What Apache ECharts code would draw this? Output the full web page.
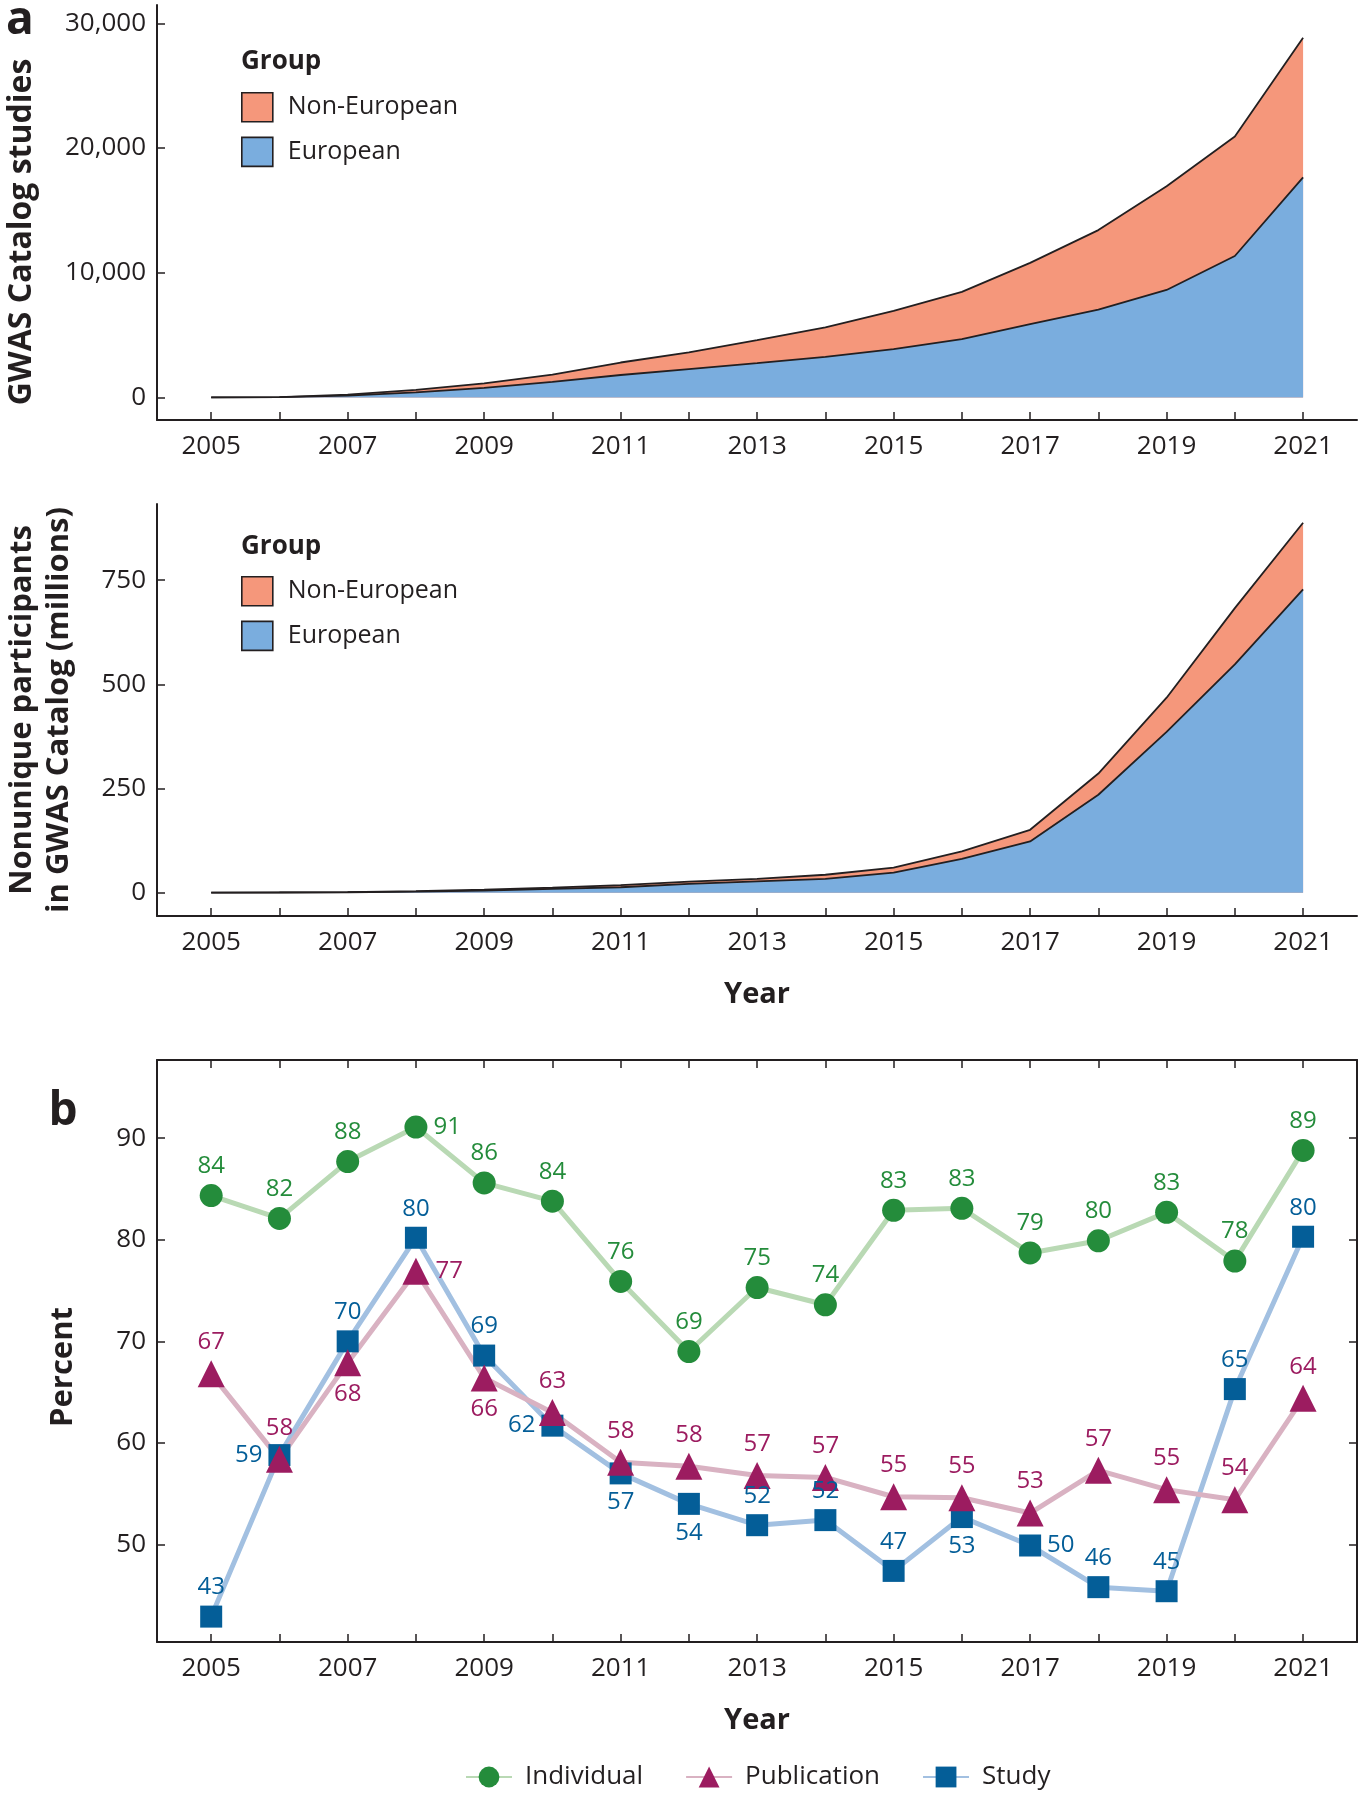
<!DOCTYPE html>
<html><head><meta charset="utf-8">
<script src="https://cdn.jsdelivr.net/npm/echarts@6/dist/echarts.min.js"></script>
<style>html,body{margin:0;padding:0;background:#fff}#c{width:1365px;height:1800px}</style>
</head><body><div id="c"></div>
<script>
// ---------- data ----------
const years = [2005,2006,2007,2008,2009,2010,2011,2012,2013,2014,2015,2016,2017,2018,2019,2020,2021];
const yearTicks = [2005,2006,2007,2008,2009,2010,2011,2012,2013,2014,2015,2016,2017,2018,2019,2020,2021];
const yearLabels = [2005,2007,2009,2011,2013,2015,2017,2019,2021];

// GWAS Catalog studies
const studiesEuropean    = [6,20,150,400,760,1250,1800,2270,2750,3250,3880,4680,5880,7050,8620,11340,17650];
const studiesNonEuropean = [4,10,70,200,370,580,1000,1350,1850,2370,3070,3780,4910,6370,8320,9590,11200];
const studiesTicks = [0,10000,20000,30000];

// Nonunique participants (millions)
const partEuropean    = [0.1,0.4,1,2.5,5,9,13,21,27,33,48,81,123,235,386,548,728];
const partNonEuropean = [0.1,0.2,0.5,1,2,3,5,5.5,6,10,12,18,28,51,82,135,160];
const partTicks = [0,250,500,750];

// Percent
const individual  = [84.35,82.1,87.7,91.1,85.6,83.8,75.9,69.0,75.3,73.6,82.9,83.1,78.7,79.9,82.7,77.9,88.8];
const publication = [66.8,58.4,67.9,76.9,66.4,63.0,58.1,57.7,56.8,56.6,54.7,54.6,53.1,57.3,55.4,54.4,64.4];
const study       = [42.9,58.8,70.0,80.2,68.6,61.7,57.0,54.0,51.9,52.4,47.4,52.7,49.9,45.8,45.4,65.3,80.3];
const percentTicks = [50,60,70,80,90];

// label placement (presentation only)
const individualLabelPos  = ['top','top','top','right','top','top','top','top','top','top','top','top','top','top','top','top','top'];
const publicationLabelPos = ['top','top','bottom','right','bottom','top','top','top','top','top','top','top','top','top','top','top','top'];
const studyLabelPos       = ['top','left','top','top','top','left','bottom','bottom','top','top','top','bottom','right','top','top','top','top'];

// stacked tops (European + Non-European), used for the upper band
const studiesStackTop = studiesEuropean.map((v, i) => v + studiesNonEuropean[i]);
const partStackTop    = partEuropean.map((v, i) => v + partNonEuropean[i]);

// ---------- styling ----------
const FONT = '"Open Sans", "Noto Sans", sans-serif';
const INK = '#231F20';
const SALMON = '#F5977B', BLUE = '#7AADDE';

function xAxisFor(gi, opts) {
  return Object.assign({
    type: 'value', gridIndex: gi, min: 2004.206, max: 2021.79,
    axisLine: {show: true, onZero: false, lineStyle: {color: INK, width: 2}},
    axisTick: {show: true, inside: true, length: 8, lineStyle: {color: INK, width: 1.5}, customValues: yearTicks},
    axisLabel: {show: true, margin: 14, fontFamily: FONT, fontSize: 26, color: INK, customValues: yearLabels,
      formatter: v => String(v)},
    splitLine: {show: false}
  }, opts || {});
}
function yAxisFor(gi, min, max, ticks, opts) {
  return Object.assign({
    type: 'value', gridIndex: gi, min: min, max: max,
    axisLine: {show: true, onZero: false, lineStyle: {color: INK, width: 2}},
    axisTick: {show: true, inside: true, length: 8, lineStyle: {color: INK, width: 1.5}, customValues: ticks},
    axisLabel: {show: true, margin: 11, fontFamily: FONT, fontSize: 26, color: INK, customValues: ticks,
      formatter: v => Number(v).toLocaleString('en-US')},
    splitLine: {show: false}
  }, opts || {});
}
function pairs(vals) { return years.map((y, i) => [y, vals[i]]); }
function labeled(vals, pos) { return years.map((y, i) => ({value: [y, vals[i]], label: {position: pos[i]}})); }

function areaSeries(name, vals, color, gi) {
  return {
    type: 'line', name: name, xAxisIndex: gi, yAxisIndex: gi,
    data: pairs(vals), symbol: 'none', color: color,
    itemStyle: {color: color},
    lineStyle: {color: INK, width: 1.8},
    areaStyle: {color: color, opacity: 1},
    emphasis: {disabled: true}, animation: false
  };
}
function pctSeries(name, vals, pos, mark, lineColor, dark, size) {
  return {
    type: 'line', name: name, xAxisIndex: 2, yAxisIndex: 2,
    data: labeled(vals, pos), symbol: mark, symbolSize: size,
    itemStyle: {color: dark},
    lineStyle: {color: lineColor, width: 5},
    label: {show: true, color: dark, fontFamily: FONT, fontSize: 24, distance: 6,
      formatter: p => Math.round(p.value[1])},
    emphasis: {disabled: true}, animation: false
  };
}

const groupLegend = (top) => ({
  data: ['Non-European', 'European'], orient: 'vertical', left: 241, top: top, padding: 0,
  icon: 'rect', itemWidth: 31, itemHeight: 29, itemGap: 14,
  itemStyle: {borderColor: INK, borderWidth: 1.6},
  textStyle: {fontFamily: FONT, fontSize: 25, color: INK, padding: [0, 0, 0, 10]},
  selectedMode: false
});

const nameStyle = {fontFamily: FONT, fontSize: 29, fontWeight: 'bold', color: INK};

const option = {
  backgroundColor: '#fff',
  animation: false,
  grid: [
    {left: 157, top: 5, width: 1200, height: 415},
    {left: 157, top: 504, width: 1200, height: 412},
    {left: 157, top: 1060, width: 1200, height: 582}
  ],
  xAxis: [
    xAxisFor(0),
    xAxisFor(1, {name: 'Year', nameLocation: 'middle', nameGap: 64, nameTextStyle: nameStyle}),
    xAxisFor(2, {name: 'Year', nameLocation: 'middle', nameGap: 64, nameTextStyle: nameStyle}),
    xAxisFor(2, {position: 'top', axisLabel: {show: false}})
  ],
  yAxis: [
    yAxisFor(0, -1810, 31470, studiesTicks),
    yAxisFor(1, -56, 933, partTicks),
    yAxisFor(2, 40.4, 97.7, percentTicks),
    yAxisFor(2, 40.4, 97.7, percentTicks, {position: 'right', axisLabel: {show: false}})
  ],
  legend: [
    groupLegend(92),
    groupLegend(576),
    {
      data: ['Individual', 'Publication', 'Study'], orient: 'horizontal', left: 465, top: 1764, padding: 0,
      itemWidth: 46, itemHeight: 26, itemGap: 42,
      textStyle: {fontFamily: FONT, fontSize: 26, color: INK, padding: [0, 0, 0, 8]},
      selectedMode: false
    }
  ],
  graphic: [
    {type: 'text', x: 20, y: 21, style: {text: 'a', font: 'bold 46px ' + FONT, fill: INK, align: 'center', verticalAlign: 'middle'}},
    {type: 'text', x: 63, y: 1112, style: {text: 'b', font: 'bold 46px ' + FONT, fill: INK, align: 'center', verticalAlign: 'middle'}},
    {type: 'text', x: 241, y: 62, style: {text: 'Group', font: 'bold 26px ' + FONT, fill: INK, align: 'left', verticalAlign: 'middle'}},
    {type: 'text', x: 241, y: 547, style: {text: 'Group', font: 'bold 26px ' + FONT, fill: INK, align: 'left', verticalAlign: 'middle'}},
    {type: 'text', x: 22, y: 232, rotation: Math.PI / 2,
      style: {text: 'GWAS Catalog studies', font: 'bold 32px ' + FONT, fill: INK, align: 'center', verticalAlign: 'middle'}},
    {type: 'text', x: 41, y: 710, rotation: Math.PI / 2,
      style: {text: 'Nonunique participants\nin GWAS Catalog (millions)', font: 'bold 31px ' + FONT, lineHeight: 37, fill: INK, align: 'center', verticalAlign: 'middle'}},
    {type: 'text', x: 63, y: 1367, rotation: Math.PI / 2,
      style: {text: 'Percent', font: 'bold 31px ' + FONT, fill: INK, align: 'center', verticalAlign: 'middle'}}
  ],
  series: [
    areaSeries('Non-European', studiesStackTop, SALMON, 0),
    areaSeries('European', studiesEuropean, BLUE, 0),
    areaSeries('Non-European', partStackTop, SALMON, 1),
    areaSeries('European', partEuropean, BLUE, 1),
    pctSeries('Study', study, studyLabelPos, 'rect', '#A2C0E1', '#045E98', 22),
    pctSeries('Publication', publication, publicationLabelPos, 'triangle', '#D9B2C2', '#9C1C60', 27),
    pctSeries('Individual', individual, individualLabelPos, 'circle', '#B9D9B4', '#248C3B', 23)
  ]
};
const chart = echarts.init(document.getElementById('c'), null, {renderer: 'canvas'});
chart.setOption(option);
</script></body></html>
